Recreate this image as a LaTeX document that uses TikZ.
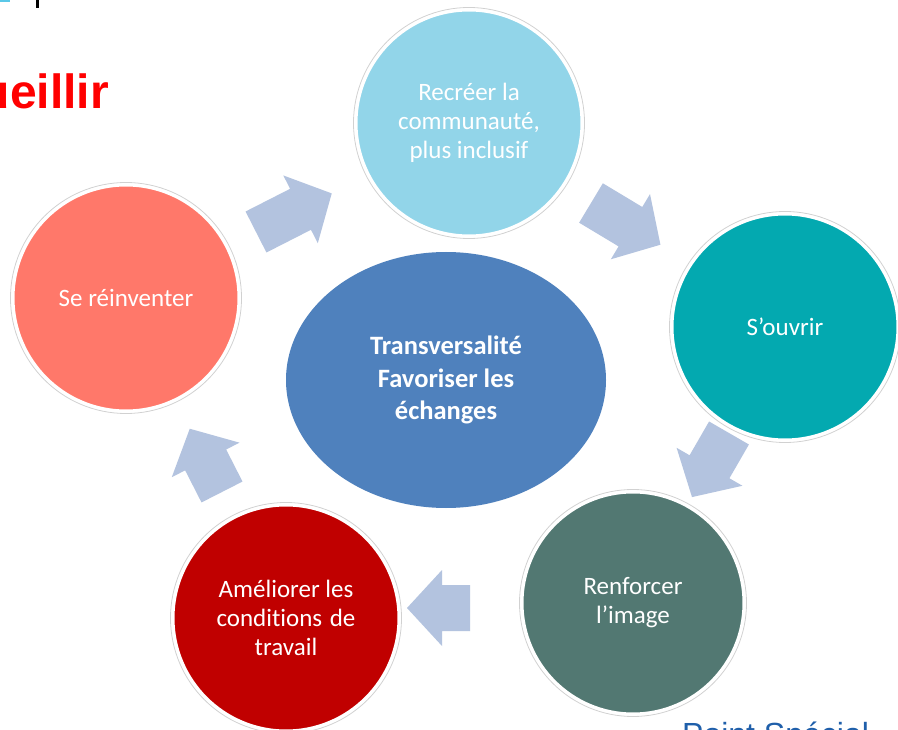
\documentclass[tikz,border=0pt]{standalone}
\usepackage{fontspec}
\setmainfont{Carlito}[RawFeature=-liga]
\newfontfamily\arialfont{Liberation Sans}
\usetikzlibrary{shapes.geometric}
\definecolor{ctop}{HTML}{92D5E9}
\definecolor{cright}{HTML}{03A9B0}
\definecolor{cbr}{HTML}{527872}
\definecolor{cbl}{HTML}{C00000}
\definecolor{cleft}{HTML}{FF786A}
\definecolor{ccenter}{HTML}{4F81BD}
\definecolor{carrow}{HTML}{B3C3DF}
\definecolor{cred}{HTML}{FF0000}
\definecolor{cblue}{HTML}{1F5FAA}
\definecolor{ccyan}{HTML}{5BC8E8}
\newcommand\blockarrow[4]{% tail x, tail y (px), angle, length
  \begin{scope}[shift={(#1,-#2)},rotate=#3]
    \fill[arrowfill] (0,-23) -- (#4-35,-23) -- (#4-35,-38) -- (#4,0) -- (#4-35,38) -- (#4-35,23) -- (0,23) -- cycle;
  \end{scope}}
\tikzset{
  arrowfill/.style={carrow},
  bubble/.style={circle, draw=white, line width=3pt, minimum size=226pt, inner sep=0pt,
    text=white, align=center, font=\fontsize{25}{29}\selectfont},
  shadowring/.style={draw=black!18, line width=0.8pt},
}
\begin{document}
\begin{tikzpicture}[x=1pt,y=1pt]
\useasboundingbox (0,0) rectangle (898,-730);
\clip (0,0) rectangle (898,-730);
\fill[white] (0,0) rectangle (898,-730);
% header fragments
\fill[ccyan] (0,0) rectangle (10,-2);
\fill[black] (36,0) rectangle (39,-8);
\node[anchor=base east, inner sep=0pt, text=cred, font=\arialfont\bfseries\fontsize{48}{50}\selectfont] (title) at (109,-109) {accueillir};
\node[anchor=base west, inner sep=0pt, text=cblue, font=\arialfont\fontsize{32}{36}\selectfont] (foot) at (682,-745) {Point Spécial};
% arrows
\blockarrow{256}{232}{27}{85}
\blockarrow{591}{203}{-31}{81}
\blockarrow{729}{433}{-120}{74}
\blockarrow{470}{608}{180}{63}
\blockarrow{222}{492}{117}{71}
% circles
\draw[shadowring] (469,-123) circle (115.5);
\node[bubble, fill=ctop] (top) at (469,-123) {Recréer la\\communauté,\\plus inclusif};
\draw[shadowring] (785,-327) circle (115.5);
\node[bubble, fill=cright] (right) at (785,-327) {S’ouvrir};
\draw[shadowring] (633,-603) circle (113.5);
\node[bubble, fill=cbr, minimum size=222pt] (br) at (633,-603) {Renforcer\\l’image};
\draw[shadowring] (286,-618) circle (115.5);
\node[bubble, fill=cbl] (bl) at (286,-618) {Améliorer les\\conditions\hspace{2pt} de\\travail};
\draw[shadowring] (126,-298) circle (115.5);
\node[bubble, fill=cleft] (left) at (126,-298) {Se réinventer};
% centre
\node[ellipse, fill=ccenter, minimum width=320pt, minimum height=256pt, inner sep=0pt,
  text=white, align=center, font=\bfseries\fontsize{26.5}{32.5}\selectfont] (center) at (446,-380)
  {Transversalité\\Favoriser les\\échanges};
\end{tikzpicture}
\end{document}
